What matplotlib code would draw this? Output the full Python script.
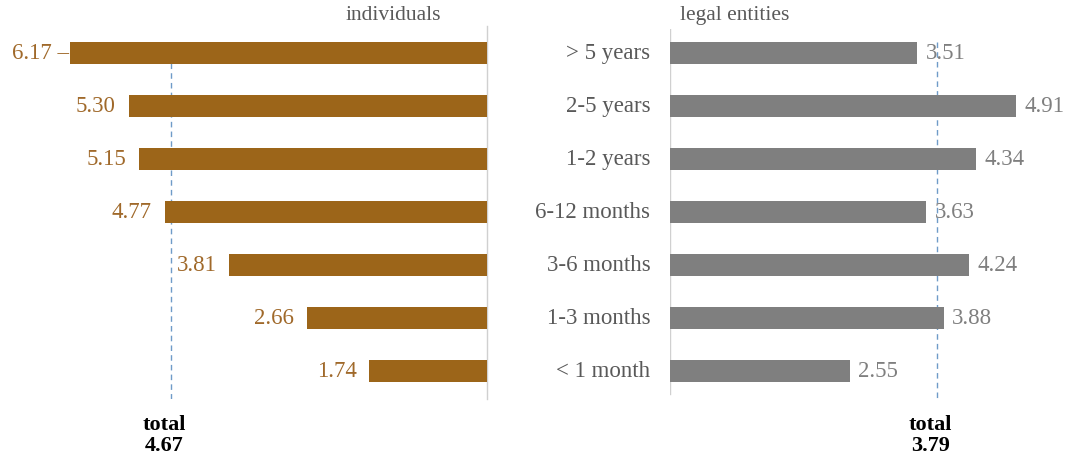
import numpy as np
import matplotlib.pyplot as plt

plt.rcParams['font.family'] = ['Liberation Serif', 'DejaVu Serif']

categories = ['> 5 years', '2-5 years', '1-2 years', '6-12 months',
              '3-6 months', '1-3 months', '< 1 month']
individuals = [6.17, 5.30, 5.15, 4.77, 3.81, 2.66, 1.74]
legal = [3.51, 4.91, 4.34, 3.63, 4.24, 3.88, 2.55]
total_ind = 4.67
total_leg = 3.79

brown = '#9c6519'
brown_txt = '#a0692a'
grey = '#7f7f7f'
dash_col = '#6f9bc8'

W, H = 1072, 464
fig = plt.figure(figsize=(W / 100, H / 100), dpi=100)

def px_axes(x0, x1, y0, y1):
    # pixel box (image coords, y down) -> figure axes
    return fig.add_axes([x0 / W, 1 - y1 / H, (x1 - x0) / W, (y1 - y0) / H])

y = np.arange(len(categories))
ylim = (6.53, -0.45)
fs = 16.5

# left panel: individuals
axl = px_axes(0, 487, 30, 400)
axl.barh(y, individuals, height=0.42, color=brown, zorder=3)
axl.set_xlim(487 / 67.6, 0)
axl.set_ylim(*ylim)
axl.plot([0, 0], [ylim[0], ylim[1] - 0.05], color='#d0d0d0', lw=1, zorder=2, clip_on=False)
axl.plot([total_ind, total_ind], [0.2, ylim[0]], ls=(0, (4, 3)), color=dash_col, lw=1, zorder=1)
for yi, v in zip(y, individuals):
    lab = f'{v:.2f}' + (' \u2013' if yi == 0 else '')
    axl.text(v + (0.02 if yi == 0 else 0.19), yi, lab, ha='right', va='center',
             fontsize=fs, color=brown_txt)
axl.text(0.68, -0.55, 'individuals', ha='right', va='bottom', fontsize=15.5, color='#595959')
axl.text(total_ind + 0.1, 7.2, 'total\n4.67', ha='center', va='center', fontsize=16,
         fontweight='bold', color='black', linespacing=1.1)
axl.axis('off')

# right panel: legal entities
axr = px_axes(670, W, 30, 400)
axr.barh(y, legal, height=0.42, color=grey, zorder=3)
axr.set_xlim(0, (W - 670) / 70.5)
axr.set_ylim(*ylim)
axr.plot([0, 0], [ylim[0] - 0.1, ylim[1]], color='#d0d0d0', lw=1, zorder=2)
axr.plot([total_leg, total_leg], [-0.2, ylim[0]], ls=(0, (4, 3)), color=dash_col, lw=1, zorder=1)
for yi, v in zip(y, legal):
    axr.text(v + 0.12, yi, f'{v:.2f}', ha='left', va='center', fontsize=fs, color=grey)
for yi, c in zip(y, categories):
    axr.text(-0.28, yi, c, ha='right', va='center', fontsize=fs, color='#595959')
axr.text(0.14, -0.55, 'legal entities', ha='left', va='bottom', fontsize=15.5, color='#595959')
axr.text(total_leg - 0.1, 7.2, 'total\n3.79', ha='center', va='center', fontsize=16,
         fontweight='bold', color='black', linespacing=1.1)
axr.axis('off')
for ax in (axl, axr):
    for t in ax.texts:
        t.set_clip_on(False)

fig.savefig('out.png', dpi=100)
